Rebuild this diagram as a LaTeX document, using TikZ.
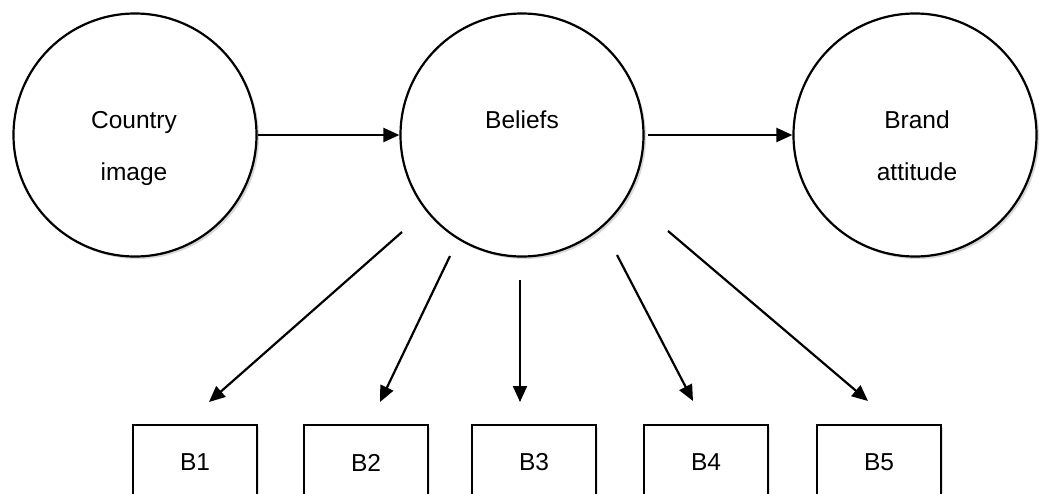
\documentclass[tikz,border=0pt]{standalone}
\usepackage{fontspec}
\setmainfont{Liberation Sans}
\usetikzlibrary{arrows.meta,shadows}

\tikzset{
  ring/.style={circle, draw, line width=2.2pt, fill=white, minimum size=243pt, inner sep=0pt,
    drop shadow={shadow xshift=2.5pt, shadow yshift=-2.5pt, opacity=0.3, fill=gray}},
  itembox/.style={rectangle, draw, line width=2.2pt, fill=white, minimum width=124pt,
    minimum height=75pt, inner sep=0pt, font=\fontsize{24.5}{29}\selectfont,
    drop shadow={shadow xshift=2pt, shadow yshift=-2pt, opacity=0.22, fill=gray}},
  txt/.style={anchor=base, inner sep=0pt, font=\fontsize{24.5}{29}\selectfont},
  link/.style={line width=2.2pt, -{Triangle[length=16pt,width=14pt]}}
}

\begin{document}
\begin{tikzpicture}[x=1pt, y=-1pt]
  \useasboundingbox (0,0) rectangle (1042,493);
  \clip (0,0) rectangle (1042,493);
  \fill[white] (0,0) rectangle (1042,493);

  % the three constructs
  \node[ring] (ci) at (135,135) {};
  \node[ring] (be) at (522,135) {};
  \node[ring] (br) at (915,135) {};

  \node[txt] (ci1) at (134,128) {Country};
  \node[txt] (ci2) at (134,180) {image};
  \node[txt] (be1) at (522,128) {Beliefs};
  \node[txt] (br1) at (917,128) {Brand};
  \node[txt] (br2) at (917,180) {attitude};

  % belief items
  \node[itembox] (b1) at (195,462.5) {B1};
  \node[itembox] (b2) at (366,462.5) {B2};
  \node[itembox] (b3) at (534,462.5) {B3};
  \node[itembox] (b4) at (706,462.5) {B4};
  \node[itembox] (b5) at (879,462.5) {B5};

  % main path
  \draw[link] (ci.east) -- (be.west);
  \draw[link, shorten <=3pt] (be.east) -- (br.west);

  % fan of arrows from beliefs towards the items
  \coordinate (s1) at (402,232);
  \coordinate (s2) at (450,256);
  \coordinate (s3) at (520,280);
  \coordinate (s4) at (617,255);
  \coordinate (s5) at (668,231);
  \coordinate (t1) at (209,402);
  \coordinate (t2) at (380,402);
  \coordinate (t3) at (520,402);
  \coordinate (t4) at (693,401);
  \coordinate (t5) at (868,401);
  \foreach \i in {1,...,5} {
    \draw[link] (s\i) -- (t\i);
  }
\end{tikzpicture}
\end{document}
